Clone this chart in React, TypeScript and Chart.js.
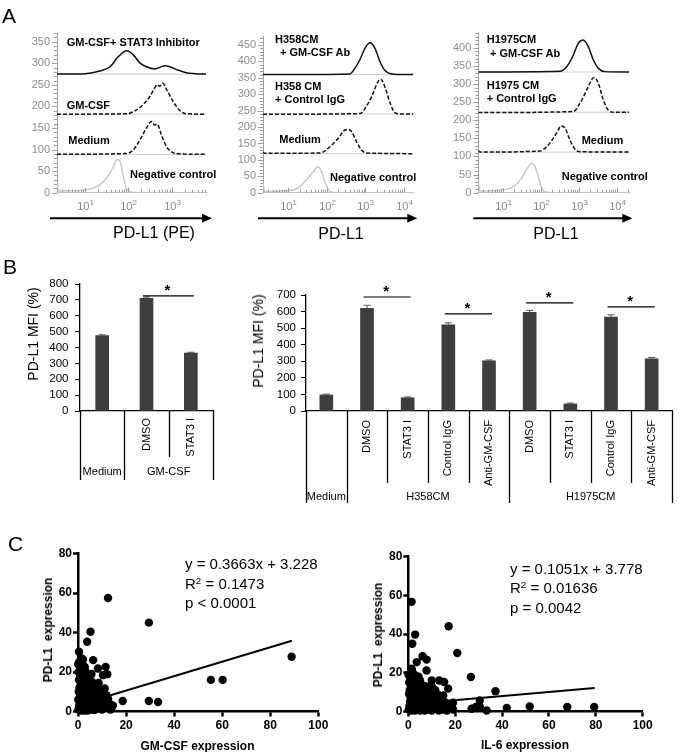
import React, { useEffect, useRef } from "react";
import { Chart, registerables } from "chart.js";

Chart.register(...registerables);

const FONT = 'Arial, "Liberation Sans", Helvetica, sans-serif';
Chart.defaults.font.family = FONT;

type Pt = [number, number];

// ---------------- Panel A: stacked PD-L1 histograms (x = fluorescence, y = count axis) ----------------
const a1Inhibitor: Pt[] = [[2.25, 275], [10, 276], [22, 282], [38, 292], [58, 315], [91, 329], [129, 320], [184, 301], [262, 292], [406, 287], [690, 294], [900, 292], [1400, 284], [2170, 278], [3500, 276], [6200, 275]];
const a1GmCsf: Pt[] = [[2.25, 182], [91, 183], [154, 192], [219, 204], [312, 223], [406, 243], [452, 250], [530, 247], [617, 254], [755, 240], [1072, 212], [1527, 191], [2170, 183], [6200, 182]];
const a1Medium: Pt[] = [[2.25, 89], [91, 91], [129, 99], [184, 122], [262, 150], [340, 165], [400, 157], [460, 159], [580, 134], [755, 107], [1072, 93], [1500, 90], [6200, 89]];
const a1Negative: Pt[] = [[2.25, 26], [2.45, 4], [9.2, 6], [18.6, 14], [31, 33], [45, 60], [55, 77], [64, 73], [76, 40], [91, 8], [129, 1], [200, 0], [6200, 0]];
const a1Baselines = [89, 182, 275];

const a2GmCsfAb: Pt[] = [[2.27, 360], [398, 362], [537, 379], [724, 405], [977, 440], [1320, 457], [1780, 440], [2400, 399], [3240, 372], [4380, 363], [7000, 360], [17400, 360]];
const a2ControlIgG: Pt[] = [[2.27, 239], [724, 241], [1080, 264], [1590, 303], [2030, 334], [2500, 346], [3240, 321], [4380, 273], [5800, 244], [8000, 240], [17400, 240]];
const a2Medium: Pt[] = [[2.27, 124], [2.5, 120], [67, 121], [122, 140], [200, 166], [297, 191], [362, 193], [443, 186], [595, 155], [800, 130], [1080, 121], [17400, 119]];
const a2Negative: Pt[] = [[2.27, 29], [2.5, 4], [9.3, 6], [13.5, 8], [20, 18], [33, 44], [45, 64], [59, 79], [71, 69], [89, 34], [122, 4], [200, 0], [17400, 0]];
const a2Baselines = [119, 240, 360];

const a3GmCsfAb: Pt[] = [[2.24, 333], [316, 335], [478, 348], [713, 380], [955, 412], [1290, 421], [1760, 403], [2380, 366], [3240, 343], [4830, 334], [21000, 333]];
const a3ControlIgG: Pt[] = [[2.24, 221], [713, 224], [1070, 247], [1590, 283], [2140, 311], [2460, 318], [3240, 302], [4360, 256], [5880, 228], [8000, 222], [21000, 222]];
const a3Medium: Pt[] = [[2.24, 116], [2.5, 112], [94, 115], [141, 127], [210, 150], [285, 173], [330, 184], [428, 178], [579, 145], [785, 120], [1070, 113], [21000, 112]];
const a3Negative: Pt[] = [[2.24, 30], [2.45, 5], [8.4, 7], [18.6, 17], [31, 40], [43.5, 67], [57, 81], [70, 72], [90, 35], [115, 5], [200, 0], [21000, 0]];
const a3Baselines = [112, 222, 333];

// ---------------- Panel B: PD-L1 MFI bars ----------------
const b1Categories = ["Medium", "DMSO", "STAT3 I"];
const b1SubLabels = ["", "DMSO", "STAT3 I"];
const b1Groups: [string, number, number][] = [["Medium", 0, 0], ["GM-CSF", 1, 2]];
const b1Values = [475, 710, 365];
const b1Errors = [5, 8, 5];
const b1Significance: [number, number, number][] = [[1, 2, 725]];

const b2Categories = ["Medium", "DMSO", "STAT3 I", "Control IgG", "Anti-GM-CSF", "DMSO", "STAT3 I", "Control IgG", "Anti-GM-CSF"];
const b2SubLabels = ["", "DMSO", "STAT3 I", "Control IgG", "Anti-GM-CSF", "DMSO", "STAT3 I", "Control IgG", "Anti-GM-CSF"];
const b2Groups: [string, number, number][] = [["Medium", 0, 0], ["H358CM", 1, 4], ["H1975CM", 5, 8]];
const b2Values = [97, 620, 80, 520, 303, 595, 43, 567, 315];
const b2Errors = [5, 18, 5, 12, 5, 12, 5, 13, 8];
const b2Significance: [number, number, number][] = [[1, 2, 688], [3, 4, 586], [5, 6, 652], [7, 8, 628]];

// ---------------- Panel C: correlations ----------------
const gmcsfVsPdl1: Pt[] = [
  [12.5, 57.5], [29.5, 45], [5.2, 40.4], [3.8, 35.3], [0.4, 30.3], [2.1, 26.4], [6.3, 26], [0.1, 23.9], [8.3, 21.8], [11.5, 22.6],
  [10.4, 18.4], [12.2, 18.9], [4.2, 17.5], [5.6, 19], [1.4, 21], [2.8, 22.6], [7.7, 11.6], [11.1, 11.7], [11.8, 8.2], [13.2, 2.5],
  [14, 2], [18.6, 5.3], [29.5, 5.3], [33.3, 4.8], [88.9, 27.7], [55.3, 16], [60.2, 16], [13.2, 4],
  [0.2, 1], [0.5, 3], [0.8, 5], [1, 8], [0.3, 10], [0.6, 12], [1.2, 14], [0.4, 16], [0.9, 18], [0.2, 20],
  [1.5, 2], [1.8, 4], [2, 6], [2.2, 9], [1.7, 11], [2.5, 13], [2.1, 15], [2.8, 17], [3, 1], [3.2, 3],
  [3.5, 5.5], [3.1, 7.5], [3.8, 9], [3.4, 12], [4, 14], [4.5, 2], [4.8, 4.5], [5, 7], [4.6, 10], [5.2, 12.5],
  [5.5, 1], [6, 3], [6.3, 5], [5.8, 8], [6.5, 10.5], [7, 2], [7.3, 4], [7.6, 6.5], [7.2, 9], [8, 1.5],
  [8.4, 3.5], [8.8, 5.5], [8.2, 8], [9, 2], [9.5, 4], [9.8, 6], [10, 1], [10.5, 3], [11, 5], [10.8, 7],
  [11.5, 2], [12, 4], [0.1, 6], [0.7, 7], [1.4, 0.5], [2.6, 0.5], [4, 0.5], [6.8, 0.8], [1.1, 22], [1.6, 16.5],
  [2.4, 19], [3.3, 10], [0.5, 25], [1.9, 24], [9.3, 10], [12.5, 6.5], [13.5, 1], [14.5, 3], [2.9, 21], [5.9, 15],
  [7.8, 13], [3.7, 18], [4.2, 16], [1.3, 27], [8.6, 14.5], [6.9, 12]
];
const il6VsPdl1: Pt[] = [
  [1.4, 56.6], [2.9, 39.7], [1.7, 35], [17.2, 44], [20.9, 30.2], [6.1, 28.5], [7.8, 26.8], [3.6, 25.5], [1.4, 22.1], [7.8, 21.2],
  [2.9, 18.7], [5, 16], [10, 16], [13.2, 16], [15.3, 15.2], [26.7, 17.8], [10.6, 11.8], [17, 11.8], [14.9, 8.3], [37.2, 10.5],
  [19.1, 4.5], [19.1, 1], [30.5, 5.7], [27, 1.4], [28.8, 2.3], [30.5, 2.5], [33.4, 0.5], [42, 1.8], [51.8, 2.6], [67.8, 2.3], [79.3, 2.3],
  [0.2, 1], [0.5, 3], [0.8, 5], [1, 7], [0.3, 9], [0.6, 11], [1.2, 13], [0.4, 15], [1.5, 2], [1.8, 4],
  [2, 6], [2.2, 8], [1.7, 10], [2.5, 12], [2.1, 14], [3, 1], [3.2, 3], [3.5, 5], [3.1, 7], [3.8, 9],
  [3.4, 11], [4, 13], [4.5, 1.5], [4.8, 4], [5, 6], [4.6, 8], [5.2, 10], [5.5, 12], [6, 1], [6.3, 3],
  [6.6, 5], [6, 7.5], [6.8, 9.5], [7, 11.5], [7.5, 2], [7.8, 4], [8, 6], [8.3, 8], [8.6, 10], [9, 1],
  [9.3, 3], [9.6, 5], [10, 7], [10.4, 9], [10.5, 2], [11, 4], [11.5, 6], [12, 1.5], [12.5, 3.5], [13, 5.5],
  [13.5, 2], [14, 4], [14.5, 1], [15.5, 2.5], [16, 4.5], [17, 1.5], [0.1, 19], [0.9, 17], [1.6, 21], [2.7, 16],
  [3.6, 15], [4.4, 18], [5.6, 14], [7.2, 13], [8.9, 12.5], [11.5, 11], [9.8, 13.5], [12.8, 8.5], [1.3, 0.5], [2.8, 0.5],
  [5, 0.5], [7, 0.5], [10, 0.5], [13, 0.5], [16.5, 0.5], [18, 3]
];
const gmcsfFit = { slope: 0.3663, intercept: 3.228, xEnd: 89 };
const il6Fit = { slope: 0.1051, intercept: 3.778, xEnd: 79.5 };

// ---------------- helpers ----------------
type Box = { left: number; top: number; width: number; height: number };
type Area = { l: number; t: number; r: number; b: number };
function pads(box: Box, a: Area) {
  return { padL: a.l - box.left, padT: a.t - box.top, padR: box.left + box.width - a.r, padB: box.top + box.height - a.b };
}
function seg(ctx: CanvasRenderingContext2D, x1: number, y1: number, x2: number, y2: number) {
  ctx.beginPath();
  ctx.moveTo(x1, y1);
  ctx.lineTo(x2, y2);
  ctx.stroke();
}
const toXY = (p: Pt[]) => p.map(([x, y]) => ({ x, y }));

const histPlugin = {
  id: "hist",
  beforeDatasetsDraw(chart: any, _a: any, o: any) {
    const { ctx, chartArea: a, scales } = chart;
    ctx.save();
    ctx.strokeStyle = "#cdcdcd";
    ctx.lineWidth = 1;
    for (const b of o.baselines) {
      const py = scales.y.getPixelForValue(b);
      seg(ctx, a.left, py, a.right, py);
    }
    ctx.restore();
  },
  afterDraw(chart: any, _a: any, o: any) {
    const { ctx, chartArea: a, scales } = chart;
    const x = scales.x, y = scales.y;
    ctx.save();
    ctx.strokeStyle = "#9c9c9c";
    ctx.lineWidth = 1;
    for (let v = 0; v <= y.max; v += 10) {
      const py = Math.round(y.getPixelForValue(v)) + 0.5;
      const len = v % 50 === 0 ? 5 : 3;
      seg(ctx, a.left - len, py, a.left, py);
    }
    const e0 = Math.floor(Math.log10(x.min));
    const e1 = Math.ceil(Math.log10(x.max));
    ctx.fillStyle = "#8a8a8a";
    for (let e = e0; e <= e1; e++) {
      for (let s = 1; s <= 9; s++) {
        const v = s * Math.pow(10, e);
        if (v < x.min || v > x.max) continue;
        const px = Math.round(x.getPixelForValue(v)) + 0.5;
        seg(ctx, px, a.bottom, px, a.bottom - (s === 1 ? 5 : 3));
        if (s === 1 && e >= 1) {
          ctx.font = `11px ${FONT}`;
          const w1 = ctx.measureText("10").width;
          ctx.font = `8px ${FONT}`;
          const w2 = ctx.measureText(String(e)).width;
          const x0 = px - (w1 + w2) / 2;
          ctx.textBaseline = "middle";
          ctx.textAlign = "left";
          ctx.font = `11px ${FONT}`;
          ctx.fillText("10", x0, a.bottom + 14);
          ctx.font = `8px ${FONT}`;
          ctx.fillText(String(e), x0 + w1, a.bottom + 10);
        }
      }
    }
    // axis arrow
    const ay = a.bottom + 25.5;
    const xs = a.left + o.arrowL;
    const xe = a.right + o.arrowR;
    ctx.strokeStyle = "#000";
    ctx.fillStyle = "#000";
    ctx.lineWidth = 2;
    seg(ctx, xs, ay, xe - 8, ay);
    ctx.beginPath();
    ctx.moveTo(xe, ay);
    ctx.lineTo(xe - 10, ay - 4.5);
    ctx.lineTo(xe - 10, ay + 4.5);
    ctx.closePath();
    ctx.fill();
    ctx.restore();
  },
};

const barPlugin = {
  id: "barDeco",
  afterDatasetsDraw(chart: any, _a: any, o: any) {
    const { ctx, scales } = chart;
    const y = scales.y;
    const meta = chart.getDatasetMeta(0);
    ctx.save();
    ctx.strokeStyle = "#555";
    ctx.lineWidth = 1;
    o.errors.forEach((e: number, i: number) => {
      const px = meta.data[i].x;
      const top = y.getPixelForValue(o.values[i] + e);
      const base = y.getPixelForValue(o.values[i]);
      seg(ctx, px, base, px, top);
      seg(ctx, px - 3.5, top, px + 3.5, top);
    });
    ctx.strokeStyle = "#000";
    ctx.fillStyle = "#000";
    ctx.lineWidth = 1.2;
    ctx.font = `bold 15px ${FONT}`;
    ctx.textAlign = "center";
    ctx.textBaseline = "alphabetic";
    o.sig.forEach(([i, j, lvl]: number[]) => {
      const x1 = meta.data[i].x - 3.5;
      const x2 = meta.data[j].x + 3;
      const py = y.getPixelForValue(lvl);
      seg(ctx, x1, py, x2, py);
      ctx.fillText("*", (x1 + x2) / 2 - 1, py - 1);
    });
    ctx.restore();
  },
  afterDraw(chart: any, _a: any, o: any) {
    const { ctx, chartArea: a, scales } = chart;
    const x = scales.x;
    const n = chart.data.labels.length;
    const cw = x.getPixelForValue(1) - x.getPixelForValue(0);
    const edge = (i: number) => x.getPixelForValue(0) - cw / 2 + i * cw;
    const starts = new Set<number>(o.groups.map((g: any) => g[1]));
    starts.add(n);
    ctx.save();
    ctx.strokeStyle = "#000";
    ctx.lineWidth = 1.3;
    for (let i = 0; i <= n; i++) {
      const px = Math.round(edge(i)) + 0.5;
      seg(ctx, px, a.bottom, px, a.bottom + (starts.has(i) ? o.longLen : o.shortLen));
    }
    ctx.fillStyle = "#000";
    ctx.font = `11px ${FONT}`;
    o.sub.forEach((s: string, i: number) => {
      if (!s) return;
      ctx.save();
      ctx.translate(x.getPixelForValue(i), a.bottom + o.subTop);
      ctx.rotate(-Math.PI / 2);
      ctx.textAlign = "right";
      ctx.textBaseline = "middle";
      ctx.fillText(s, 0, 0);
      ctx.restore();
    });
    ctx.textAlign = "center";
    ctx.textBaseline = "middle";
    o.groups.forEach(([label, from, to]: [string, number, number]) => {
      const cx = (edge(from) + edge(to + 1)) / 2;
      ctx.fillText(label, cx, a.bottom + o.groupY);
    });
    ctx.restore();
  },
};

function histConfig(box: Box, area: Area, curves: { pts: Pt[]; kind: string }[], xMin: number, xMax: number, yMax: number, baselines: number[], arrow: [number, number]) {
  const p = pads(box, area);
  const style = (k: string) =>
    k === "solid"
      ? { borderColor: "#111", borderWidth: 1.5, borderDash: [] as number[] }
      : k === "dash"
      ? { borderColor: "#111", borderWidth: 1.5, borderDash: [4, 2] }
      : { borderColor: "#c9c9c9", borderWidth: 1.5, borderDash: [] as number[] };
  return {
    type: "line",
    data: {
      datasets: curves.map((c) => ({
        data: toXY(c.pts),
        ...style(c.kind),
        pointRadius: 0,
        fill: false,
        cubicInterpolationMode: "monotone",
      })),
    },
    options: {
      animation: false,
      responsive: false,
      events: [],
      layout: { padding: { left: 0, top: p.padT, right: p.padR, bottom: 0 } },
      plugins: { legend: { display: false }, tooltip: { enabled: false }, hist: { baselines, arrowL: arrow[0], arrowR: arrow[1] } },
      scales: {
        x: {
          type: "logarithmic",
          min: xMin,
          max: xMax,
          grid: { display: false, drawTicks: false },
          ticks: { display: false },
          border: { display: true, color: "#c4c4c4", width: 1 },
          afterFit: (s: any) => { s.height = p.padB; },
        },
        y: {
          type: "linear",
          min: 0,
          max: yMax,
          grid: { display: false, drawTicks: false },
          ticks: { stepSize: 50, includeBounds: false, autoSkip: false, padding: 7, color: "#8c8c8c", font: { size: 11 } },
          border: { display: true, color: "#a0a0a0", width: 1 },
          afterFit: (s: any) => { s.width = p.padL; },
        },
      },
    },
    plugins: [histPlugin],
  };
}

function barConfig(box: Box, area: Area, cats: string[], values: number[], errors: number[], sub: string[], groups: any[], sig: any[], yMax: number, deco: any) {
  const p = pads(box, area);
  return {
    type: "bar",
    data: { labels: cats, datasets: [{ data: values, backgroundColor: "#3e3e3e", borderWidth: 0, barThickness: 13 }] },
    options: {
      animation: false,
      responsive: false,
      events: [],
      layout: { padding: { left: 0, top: p.padT, right: p.padR, bottom: 0 } },
      plugins: { legend: { display: false }, tooltip: { enabled: false }, barDeco: { values, errors, sub, groups, sig, ...deco } },
      scales: {
        x: {
          grid: { display: false, drawTicks: false },
          ticks: { display: false },
          border: { display: true, color: "#000", width: 1.3 },
          afterFit: (s: any) => { s.height = p.padB; },
        },
        y: {
          min: 0,
          max: yMax,
          ticks: { stepSize: 100, autoSkip: false, color: "#000", font: { size: 11.5 }, padding: deco.tickPad },
          grid: { display: true, drawOnChartArea: false, drawTicks: true, tickLength: 5, color: "#000", lineWidth: 1 },
          border: { display: true, color: "#000", width: 1.3 },
          afterFit: (s: any) => { s.width = p.padL; },
        },
      },
    },
    plugins: [barPlugin],
  };
}

function scatterConfig(box: Box, area: Area, pts: Pt[], fit: { slope: number; intercept: number; xEnd: number }) {
  const p = pads(box, area);
  const axis = (isX: boolean) => ({
    type: "linear",
    min: 0,
    max: isX ? 100 : 80,
    ticks: { stepSize: 20, autoSkip: false, color: "#000", font: { size: 12, weight: "bold" }, padding: isX ? 2 : 1 },
    grid: { display: true, drawOnChartArea: false, drawTicks: true, tickLength: 5, tickWidth: 2.5, color: "#000" },
    border: { display: true, color: "#000", width: 2.5 },
    afterFit: (s: any) => {
      if (isX) s.height = p.padB;
      else s.width = p.padL;
    },
  });
  return {
    type: "scatter",
    data: {
      datasets: [
        { data: toXY(pts), pointRadius: 4.2, backgroundColor: "#000", borderWidth: 0, clip: false },
        {
          data: [
            { x: 0, y: fit.intercept },
            { x: fit.xEnd, y: fit.slope * fit.xEnd + fit.intercept },
          ],
          showLine: true,
          borderColor: "#000",
          borderWidth: 2,
          pointRadius: 0,
          fill: false,
        },
      ],
    },
    options: {
      animation: false,
      responsive: false,
      events: [],
      layout: { padding: { left: 0, top: p.padT, right: p.padR, bottom: 0 } },
      plugins: { legend: { display: false }, tooltip: { enabled: false } },
      scales: { x: axis(true), y: axis(false) },
    },
  };
}

function ChartCanvas({ box, make }: { box: Box; make: () => any }) {
  const ref = useRef<HTMLCanvasElement>(null);
  useEffect(() => {
    const chart = new Chart(ref.current as HTMLCanvasElement, make());
    return () => chart.destroy();
  }, []);
  return (
    <canvas
      ref={ref}
      width={box.width}
      height={box.height}
      style={{ position: "absolute", left: box.left, top: box.top, width: box.width, height: box.height }}
    />
  );
}

function Label({ x, y, children, size = 11, weight = 400, anchor = "start", rotate = false }: any) {
  const tx = anchor === "start" ? "0%" : anchor === "middle" ? "-50%" : "-100%";
  return (
    <div
      style={{
        position: "absolute",
        left: x,
        top: y,
        transform: `translate(${tx}, -50%)${rotate ? " rotate(-90deg)" : ""}`,
        fontFamily: FONT,
        fontSize: size,
        fontWeight: weight,
        lineHeight: 1,
        whiteSpace: "pre",
        color: "#000",
      }}
    >
      {children}
    </div>
  );
}

const sup: React.CSSProperties = { fontSize: "0.65em", verticalAlign: "0.5em", lineHeight: 0 };

export default function App() {
  const a1Box = { left: 0, top: 0, width: 230, height: 240 };
  const a2Box = { left: 230, top: 0, width: 210, height: 240 };
  const a3Box = { left: 440, top: 0, width: 245, height: 240 };
  const a1Area = { l: 57, t: 192.7 - 370 * 0.4314, r: 206, b: 192.7 };
  const a2Area = { l: 263, t: 192.7 - 475 * 0.3282, r: 413.3, b: 192.7 };
  const a3Area = { l: 478.3, t: 192.7 - 440 * 0.3625, r: 629.3, b: 192.7 };

  const b1Box = { left: 0, top: 266, width: 225, height: 224 };
  const b1Area = { l: 80, t: 284, r: 213, b: 411 };
  const b2Box = { left: 232, top: 272, width: 453, height: 240 };
  const b2Area = { l: 306, t: 295, r: 672, b: 411 };

  const c1Box = { left: 10, top: 535, width: 330, height: 215 };
  const c1Area = { l: 78, t: 553.5, r: 318.3, b: 711.5 };
  const c2Box = { left: 345, top: 535, width: 330, height: 215 };
  const c2Area = { l: 408.3, t: 556.5, r: 642.7, b: 711.5 };

  const B = 700;
  return (
    <div style={{ position: "absolute", left: 0, top: 0, width: 685, height: 752, background: "#fff", overflow: "hidden" }}>
      <ChartCanvas
        box={a1Box}
        make={() =>
          histConfig(a1Box, a1Area, [
            { pts: a1Inhibitor, kind: "solid" },
            { pts: a1GmCsf, kind: "dash" },
            { pts: a1Medium, kind: "dash" },
            { pts: a1Negative, kind: "neg" },
          ], 2.25, 6200, 370, a1Baselines, [-7, 6])
        }
      />
      <ChartCanvas
        box={a2Box}
        make={() =>
          histConfig(a2Box, a2Area, [
            { pts: a2GmCsfAb, kind: "solid" },
            { pts: a2ControlIgG, kind: "dash" },
            { pts: a2Medium, kind: "dash" },
            { pts: a2Negative, kind: "neg" },
          ], 2.27, 17400, 475, a2Baselines, [-5, 4])
        }
      />
      <ChartCanvas
        box={a3Box}
        make={() =>
          histConfig(a3Box, a3Area, [
            { pts: a3GmCsfAb, kind: "solid" },
            { pts: a3ControlIgG, kind: "dash" },
            { pts: a3Medium, kind: "dash" },
            { pts: a3Negative, kind: "neg" },
          ], 2.24, 21100, 440, a3Baselines, [-5, 3])
        }
      />
      <ChartCanvas
        box={b1Box}
        make={() =>
          barConfig(b1Box, b1Area, b1Categories, b1Values, b1Errors, b1SubLabels, b1Groups, b1Significance, 800, {
            shortLen: 46, longLen: 69, subTop: 7, groupY: 61, tickPad: 6.5,
          })
        }
      />
      <ChartCanvas
        box={b2Box}
        make={() =>
          barConfig(b2Box, b2Area, b2Categories, b2Values, b2Errors, b2SubLabels, b2Groups, b2Significance, 700, {
            shortLen: 72, longLen: 92, subTop: 9, groupY: 86, tickPad: 5,
          })
        }
      />
      <ChartCanvas box={c1Box} make={() => scatterConfig(c1Box, c1Area, gmcsfVsPdl1, gmcsfFit)} />
      <ChartCanvas box={c2Box} make={() => scatterConfig(c2Box, c2Area, il6VsPdl1, il6Fit)} />

      {/* panel letters */}
      <Label x={2} y={15} size={21}>A</Label>
      <Label x={3} y={266} size={21}>B</Label>
      <Label x={8} y={543} size={21}>C</Label>

      {/* A1 labels */}
      <Label x={66.7} y={41.7} weight={B}>GM-CSF+ STAT3 Inhibitor</Label>
      <Label x={66.7} y={105} weight={B}>GM-CSF</Label>
      <Label x={68.3} y={140} weight={B}>Medium</Label>
      <Label x={130} y={174} weight={B}>Negative control</Label>
      <Label x={154} y={233} size={16} anchor="middle">PD-L1 (PE)</Label>

      {/* A2 labels */}
      <Label x={275} y={38.8} weight={B}>H358CM</Label>
      <Label x={280} y={51.7} weight={B}>+ GM-CSF Ab</Label>
      <Label x={275} y={86} weight={B}>H358 CM</Label>
      <Label x={275} y={99.3} weight={B}>+ Control IgG</Label>
      <Label x={279.3} y={139.3} weight={B}>Medium</Label>
      <Label x={330} y={176.7} weight={B}>Negative control</Label>
      <Label x={341} y={234} size={16} anchor="middle">PD-L1</Label>

      {/* A3 labels */}
      <Label x={486.7} y={39.3} weight={B}>H1975CM</Label>
      <Label x={490} y={53.3} weight={B}>+ GM-CSF Ab</Label>
      <Label x={486.7} y={85} weight={B}>H1975 CM</Label>
      <Label x={486.7} y={98.3} weight={B}>+ Control IgG</Label>
      <Label x={581.7} y={140} weight={B}>Medium</Label>
      <Label x={561.7} y={176} weight={B}>Negative control</Label>
      <Label x={556} y={234} size={16} anchor="middle">PD-L1</Label>

      {/* B axis titles */}
      <Label x={33} y={334} size={14} anchor="middle" rotate>PD-L1 MFI (%)</Label>
      <Label x={258} y={341} size={14} anchor="middle" rotate>PD-L1 MFI (%)</Label>

      {/* C labels */}
      <Label x={185} y={562.7} size={15}>y = 0.3663x + 3.228</Label>
      <Label x={185} y={582.7} size={15}>R<span style={sup}>2</span> = 0.1473</Label>
      <Label x={185} y={601.7} size={15}>p &lt; 0.0001</Label>
      <Label x={197.5} y={746} size={12} weight={B} anchor="middle">GM-CSF expression</Label>
      <Label x={47.5} y={630} size={12} weight={B} anchor="middle" rotate>PD-L1  expression</Label>

      <Label x={510} y={568.3} size={15}>y = 0.1051x + 3.778</Label>
      <Label x={510} y={587.3} size={15}>R<span style={sup}>2</span> = 0.01636</Label>
      <Label x={510} y={606.7} size={15}>p = 0.0042</Label>
      <Label x={525} y={745} size={12} weight={B} anchor="middle">IL-6 expression</Label>
      <Label x={377.5} y={635} size={12} weight={B} anchor="middle" rotate>PD-L1  expression</Label>
    </div>
  );
}
